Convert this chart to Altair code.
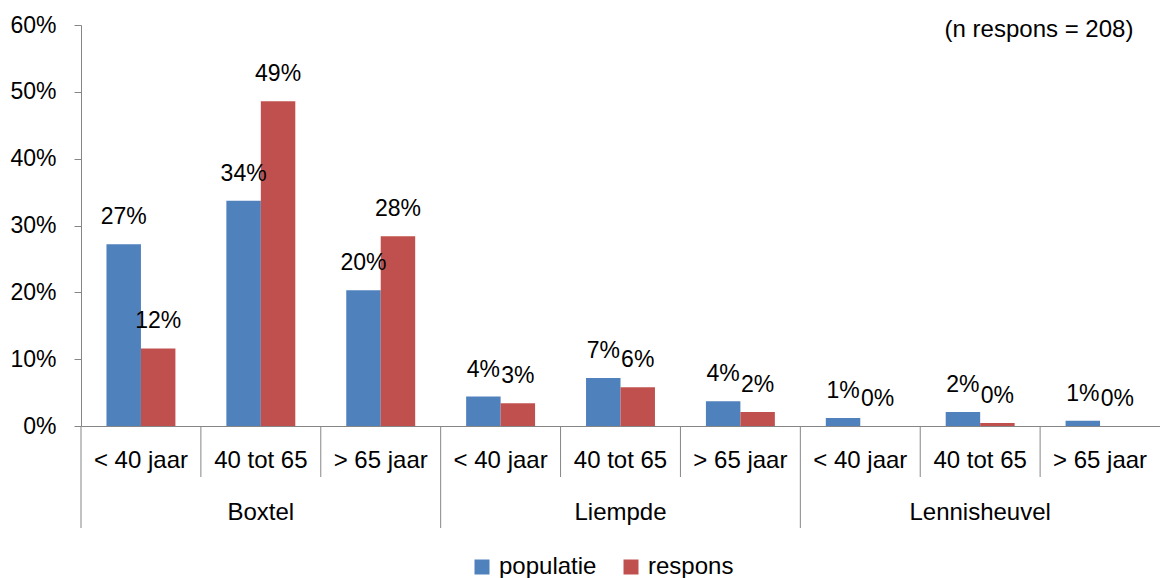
import altair as alt
import pandas as pd

groups = ["Boxtel", "Liempde", "Lennisheuvel"]
ages = ["< 40 jaar", "40 tot 65", "> 65 jaar"]
series = ["populatie", "respons"]
populatie = [27.2, 33.7, 20.3, 4.4, 7.2, 3.7, 1.2, 2.1, 0.8]
respons = [11.6, 48.6, 28.4, 3.4, 5.8, 2.1, 0.0, 0.45, 0.0]
y_ticks = [0, 0.1, 0.2, 0.3, 0.4, 0.5, 0.6]
note = "(n respons = 208)"
colors = ["#4F81BD", "#C0504D"]

FONT = "Liberation Sans"
GREY = "#868686"
W, H = 1079, 401

cats = [f"{g}|{a}" for g in groups for a in ages]
rows = []
for i, c in enumerate(cats):
    g, a = c.split("|")
    rows.append(dict(cat=c, group=g, age=a, series=series[0], pct=populatie[i]))
    rows.append(dict(cat=c, group=g, age=a, series=series[1], pct=respons[i]))
df = pd.DataFrame(rows)
df["value"] = df["pct"] / 100

age_df = pd.DataFrame({"cat": cats, "age": [c.split("|")[1] for c in cats]})
grp_df = pd.DataFrame({
    "cat": [f"{g}|{ages[len(ages) // 2]}" for g in groups],
    "group": groups,
})
n = len(cats)
# the right-most boundary lies outside the visible picture in the reference
long_pos = [i * len(ages) for i in range(len(groups))]
short_pos = [i for i in range(n) if i not in long_pos]
long_df = pd.DataFrame({"pos": long_pos})
short_df = pd.DataFrame({"pos": short_pos})
note_df = pd.DataFrame({"t": [note]})

xband = alt.Scale(domain=cats, paddingInner=0.425, paddingOuter=0.2125)
xoff = alt.XOffset("series:N", scale=alt.Scale(domain=series, paddingInner=0, paddingOuter=0))
yenc = alt.Y("value:Q", scale=alt.Scale(domain=[0, 0.6], nice=False),
             axis=alt.Axis(values=y_ticks, format=".0%", title=None, grid=False,
                           domainColor=GREY, tickColor=GREY, tickSize=7,
                           labelFontSize=23, labelPadding=18, labelColor="black",
                           labelFont=FONT))

bars = alt.Chart(df).mark_bar().encode(
    x=alt.X("cat:N", scale=xband,
            axis=alt.Axis(labels=False, ticks=False, title=None, domainColor=GREY)),
    xOffset=xoff,
    y=yenc,
    color=alt.Color("series:N", scale=alt.Scale(domain=series, range=colors),
                    legend=alt.Legend(title=None, orient="none", legendX=389, legendY=530,
                                      direction="horizontal", symbolType="square",
                                      symbolSize=225, symbolStrokeWidth=0,
                                      labelFontSize=24, labelFont=FONT, labelOffset=5,
                                      columnPadding=22, padding=0, labelColor="black")),
)

labels = alt.Chart(df).mark_text(baseline="middle", dy=-27, fontSize=23, font=FONT,
                                 color="black").encode(
    x=alt.X("cat:N", scale=xband, axis=None),
    xOffset=xoff,
    y=alt.Y("value:Q"),
    text=alt.Text("value:Q", format=".0%"),
)

age_text = alt.Chart(age_df).mark_text(baseline="middle", fontSize=24, font=FONT,
                                       color="black").encode(
    x=alt.X("cat:N", scale=xband, axis=None),
    y=alt.value(436),
    text="age:N",
)

grp_text = alt.Chart(grp_df).mark_text(baseline="middle", fontSize=24, font=FONT,
                                       color="black").encode(
    x=alt.X("cat:N", scale=xband, axis=None),
    y=alt.value(488),
    text="group:N",
)

lin = alt.Scale(domain=[0, n])
short_rules = alt.Chart(short_df).mark_rule(color=GREY).encode(
    x=alt.X("pos:Q", scale=lin, axis=None),
    y=alt.value(401), y2=alt.value(452),
)
long_rules = alt.Chart(long_df).mark_rule(color=GREY).encode(
    x=alt.X("pos:Q", scale=lin, axis=None),
    y=alt.value(401), y2=alt.value(503),
)

note_text = alt.Chart(note_df).mark_text(baseline="middle", align="center", fontSize=24,
                                         font=FONT, color="black").encode(
    x=alt.value(958), y=alt.value(5), text="t:N",
)

chart = alt.layer(
    bars, labels, age_text, grp_text, short_rules, long_rules, note_text
).resolve_scale(x="independent").properties(
    width=W, height=H,
    autosize=alt.AutoSizeParams(type="none"),
    padding={"left": 73, "top": 17, "right": 0, "bottom": 155},
).configure_view(stroke=None)

chart.save("out.html", embed_options={"renderer": "svg", "actions": False})
